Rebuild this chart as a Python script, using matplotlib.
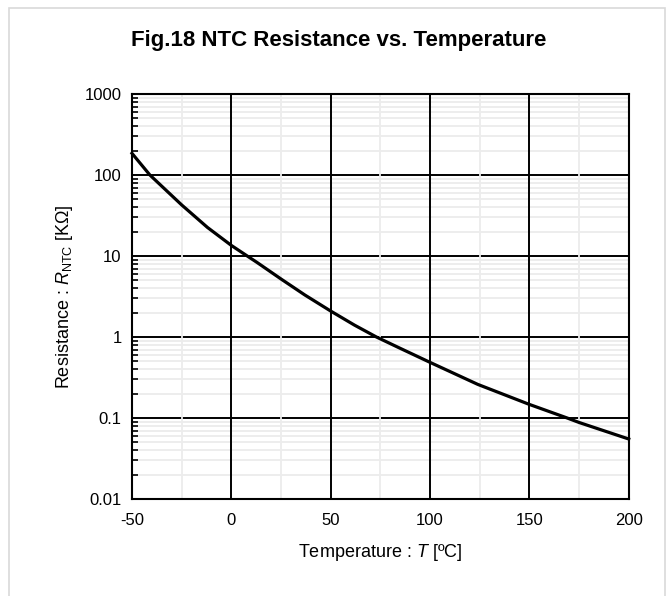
import matplotlib
matplotlib.use('Agg')
import matplotlib.pyplot as plt
import numpy as np
from matplotlib.patches import Rectangle
from matplotlib.ticker import FixedLocator, NullFormatter

plt.rcParams['font.family'] = ['Liberation Sans', 'DejaVu Sans']
plt.rcParams['mathtext.fontset'] = 'custom'
plt.rcParams['mathtext.rm'] = 'Liberation Sans'
plt.rcParams['mathtext.it'] = 'Liberation Sans:italic'
plt.rcParams['axes.unicode_minus'] = False

# values
temp_c = [-50, -41, -25, -12, 0, 8, 13, 25, 37, 50, 62, 73, 85, 100, 124, 150, 169, 175, 200]
r_ntc_k = [185, 100, 42.7, 22.5, 13.5, 10, 8.3, 5.2, 3.3, 2.09, 1.40, 1.0, 0.724, 0.486,
           0.26, 0.147, 0.1, 0.088, 0.055]

x_ticks = [-50, 0, 50, 100, 150, 200]
x_minor = [-25, 25, 75, 125, 175]
y_ticks = [0.01, 0.1, 1, 10, 100, 1000]
y_ticklabels = ['0.01', '0.1', '1', '10', '100', '1000']
y_minor = [d * k for d in y_ticks[:-1] for k in range(2, 10)]

fig = plt.figure(figsize=(6.71, 5.96), dpi=100)
ax = fig.add_axes([0.1967, 0.1628, 0.7403, 0.6795])

# light frame round the whole chart
fig.patches.append(Rectangle((9 / 671, -0.05), 656 / 671, 1.05 - 8 / 596, transform=fig.transFigure,
                             fill=False, edgecolor='#d9d9d9', linewidth=1.2))

ax.set_yscale('log')
ax.set_xlim(-50, 200)
ax.set_ylim(0.01, 1000)

ax.set_xticks(x_ticks)
ax.set_xticklabels([str(t) for t in x_ticks])
ax.set_yticks(y_ticks)
ax.set_yticklabels(y_ticklabels)
ax.yaxis.set_minor_locator(FixedLocator(y_minor))
ax.yaxis.set_minor_formatter(NullFormatter())
ax.xaxis.set_minor_locator(FixedLocator([]))

# gridlines, drawn in the same order as the reference
for v in y_minor:
    ax.axhline(v, color='#ececec', linewidth=1.3, zorder=0.5)
for v in y_ticks[1:-1]:
    ax.axhline(v, color='black', linewidth=1.4, zorder=0.6)
for v in x_minor:
    ax.axvline(v, color='#ececec', linewidth=1.3, zorder=0.7)
for v in x_ticks[1:-1]:
    ax.axvline(v, color='black', linewidth=1.4, zorder=0.8)

ax.tick_params(axis='both', which='major', length=0, labelsize=12)
ax.tick_params(axis='x', which='major', pad=10)
ax.tick_params(axis='y', which='major', pad=7.5)
ax.tick_params(axis='y', which='minor', direction='in', length=4, width=1.2, color='black')

for s in ax.spines.values():
    s.set_linewidth(1.5)
    s.set_color('black')
    s.set_zorder(2)

ax.plot(temp_c, r_ntc_k, color='black', linewidth=2.3, zorder=3, clip_on=False)

ax.set_xlabel('Temperature : $\\mathit{T}$ [ºC]', fontsize=13, labelpad=10)
ax.set_ylabel('Resistance : $\\mathit{R}_{\\mathrm{NTC}}$ [KΩ]', fontsize=13, labelpad=7)

fig.text(0.505, 0.932, 'Fig.18 NTC Resistance vs. Temperature', ha='center', va='center',
         fontsize=16, fontweight='bold')

fig.savefig('out.png', dpi=100)
